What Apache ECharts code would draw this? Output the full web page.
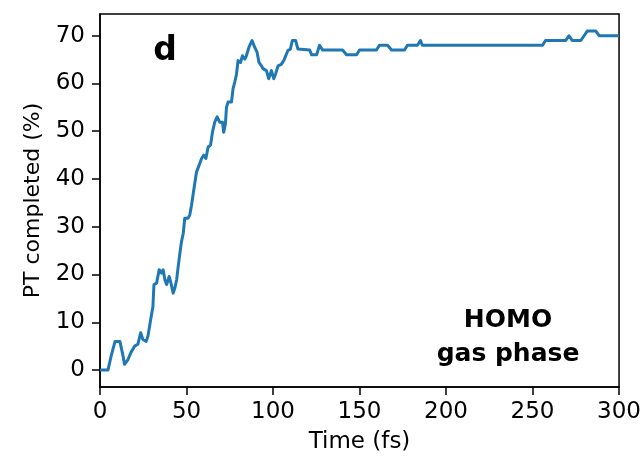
<!DOCTYPE html>
<html>
<head>
<meta charset="utf-8">
<script src="https://cdn.jsdelivr.net/npm/echarts@6/dist/echarts.min.js"></script>
<style>
html,body{margin:0;padding:0;background:#fff;}
#chart{width:644px;height:459px;}
</style>
</head>
<body>
<div id="chart"></div>
<script>
// Time (fs)
var times = [0, 4.6, 6.5, 8.7, 11.5, 13, 14.2, 16.2, 17.9, 20.0, 21.9, 23.5, 24.8, 26.7, 27.7, 29.3, 30.6, 30.8, 31.2, 32.7,
  34.2, 35.6, 36.5, 37.5, 38.5, 40.0, 41.0, 42.3, 43.3, 44.3, 45.2, 46.2, 47.1, 48.1, 49.0, 50.9, 51.9, 52.9, 54.2, 55.8,
  57.3, 58.7, 60.0, 61.2, 62.5, 63.9, 65.0, 66.3, 67.7, 69.2, 70.8, 71.5, 72.5, 73.1, 74.0, 76.0, 76.9, 77.9, 78.9, 79.8,
  81.2, 82.3, 83.7, 84.6, 86.1, 87.9, 89.4, 90.8, 91.9, 93.3, 94.2, 96.2, 97.5, 99.1, 100.4, 101.5, 102.9, 104.8, 106.2, 107.3,
  108.6, 110.0, 111.2, 113.1, 114.4, 115.4, 121.2, 122.3, 125.2, 126.9, 128.7, 140.2, 142.5, 148.3, 150.0, 159.8, 161.5, 166.2, 168.5, 176.0,
  177.7, 183.5, 185.2, 186.3, 255.8, 257.5, 269.2, 271.0, 273.0, 277.9, 279.8, 281.7, 286.5, 288.5, 300];
// PT completed (%)
var ptCompleted = [0, 0, 3, 6, 6, 3.5, 1.2, 2.2, 3.7, 5, 5.4, 7.8, 6.4, 6, 7.1, 10.6, 13.3, 15.1, 17.9, 18.2,
  21, 20.3, 21, 18.9, 17.9, 19.6, 18.2, 16.1, 17.2, 18.9, 21.7, 24.5, 26.9, 28.6, 31.8, 31.8, 32.5, 34.5, 37.7, 41.5,
  42.9, 44.3, 45.0, 44.3, 46.7, 47.1, 49.8, 51.9, 53, 51.9, 51.9, 49.8, 51.6, 55, 56.1, 56.1, 58.9, 60.3, 62, 64.8,
  64.4, 65.8, 65.1, 65.8, 67.6, 69, 67.6, 66.5, 64.4, 63.7, 63.1, 62.7, 61, 62.7, 61, 62, 63.7, 64, 64.8, 65.1,
  66.9, 67.2, 69, 69, 67.2, 67, 67, 66, 66, 68, 67, 67, 66, 66, 67, 67, 68, 68, 67, 67,
  68, 68, 69, 68, 68, 69, 69, 70, 69, 69, 70, 71, 71, 70, 70];
var xTicks = [0, 50, 100, 150, 200, 250, 300];
var yTicks = [0, 10, 20, 30, 40, 50, 60, 70];

var points = times.map(function (t, i) { return [t, ptCompleted[i]]; });
var FONT = 'DejaVu Sans';
var chart = echarts.init(document.getElementById('chart'), null, {renderer: 'canvas'});
chart.setOption({
  animation: false,
  backgroundColor: '#ffffff',
  grid: {left: 100, right: 24, top: 14, bottom: 71, show: true, borderColor: '#000', borderWidth: 1.5, backgroundColor: 'transparent'},
  xAxis: {
    type: 'value', min: 0, max: 300, interval: 50,
    name: 'Time (fs)', nameLocation: 'middle', nameGap: 44,
    nameTextStyle: {fontFamily: FONT, fontSize: 23, color: '#000'},
    axisLine: {show: true, onZero: false, lineStyle: {color: '#000', width: 1.5}},
    axisTick: {show: true, inside: false, length: 8, lineStyle: {color: '#000', width: 1.5}},
    axisLabel: {fontFamily: FONT, fontSize: 23, color: '#000', margin: 14},
    splitLine: {show: false}
  },
  yAxis: {
    type: 'value', min: -3.55, max: 74.55,
    name: 'PT completed (%)', nameLocation: 'middle', nameGap: 56,
    nameTextStyle: {fontFamily: FONT, fontSize: 22, color: '#000'},
    axisLine: {show: true, onZero: false, lineStyle: {color: '#000', width: 1.5}},
    axisTick: {show: true, inside: false, length: 8, customValues: yTicks, lineStyle: {color: '#000', width: 1.5}},
    axisLabel: {fontFamily: FONT, fontSize: 23, color: '#000', margin: 15, customValues: yTicks},
    splitLine: {show: false}
  },
  series: [{
    type: 'line', data: points, showSymbol: false, symbol: 'none',
    lineStyle: {color: '#1f77b4', width: 3, join: 'round'}, clip: true
  }],
  graphic: [
    {type: 'text', x: 165, y: 51, style: {text: 'd', fontFamily: FONT, fontWeight: 'bold', fontSize: 33, fill: '#000', textAlign: 'center', textVerticalAlign: 'middle'}},
    {type: 'text', x: 508, y: 320, style: {text: 'HOMO', fontFamily: FONT, fontWeight: 'bold', fontSize: 25, fill: '#000', textAlign: 'center', textVerticalAlign: 'middle'}},
    {type: 'text', x: 508, y: 354, style: {text: 'gas phase', fontFamily: FONT, fontWeight: 'bold', fontSize: 25, fill: '#000', textAlign: 'center', textVerticalAlign: 'middle'}}
  ]
});
</script>
</body>
</html>
